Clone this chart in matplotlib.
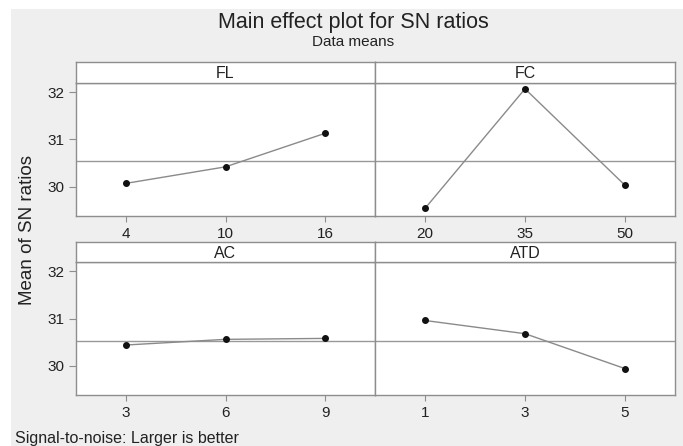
import matplotlib
matplotlib.use("Agg")
import matplotlib.pyplot as plt
from matplotlib.patches import Rectangle
import numpy as np

plt.rcParams['font.family'] = ['Liberation Sans', 'DejaVu Sans']

# ---- data ----
factors = ["FL", "FC", "AC", "ATD"]
FL_levels = ["4", "10", "16"]
FL_sn = [30.07, 30.42, 31.13]
FC_levels = ["20", "35", "50"]
FC_sn = [29.54, 32.07, 30.03]
AC_levels = ["3", "6", "9"]
AC_sn = [30.44, 30.56, 30.58]
ATD_levels = ["1", "3", "5"]
ATD_sn = [30.96, 30.68, 29.94]
y_ticks = [30, 31, 32]

levels = [FL_levels, FC_levels, AC_levels, ATD_levels]
values = [FL_sn, FC_sn, AC_sn, ATD_sn]
grand_mean = float(np.mean(FL_sn + FC_sn + AC_sn + ATD_sn))

W, H = 683, 446
fig = plt.figure(figsize=(W / 100, H / 100), dpi=100)
fig.patch.set_facecolor("white")
bg = "#efefef"
fig.patches.append(Rectangle((11 / W, 0), 1 - 11 / W, 1 - 9 / H, transform=fig.transFigure,
                             facecolor=bg, edgecolor="none", zorder=-10))

edge = "#8e8e8e"
line_c = "#8a8a8a"

def px_axes(x0, y0, x1, y1):
    return fig.add_axes([x0 / W, 1 - y1 / H, (x1 - x0) / W, (y1 - y0) / H])

cols = [(76, 375), (375, 675)]
rows = [(62, 82.7, 216), (242, 262, 395)]
ylim = (29.38, 32.2)

for i, (name, lv, vals) in enumerate(zip(factors, levels, values)):
    r, c = divmod(i, 2)
    x0, x1 = cols[c]
    st, pt, pb = rows[r]
    ax = px_axes(x0, pt, x1, pb)
    ax.set_facecolor("white")
    pos = np.arange(1, len(lv) + 1)
    ax.axhline(grand_mean, color="#999999", lw=1.0, zorder=1)
    ax.plot(pos, vals, color=line_c, lw=1.0, zorder=2)
    ax.plot(pos, vals, "o", color="#111111", ms=4, zorder=3)
    ax.set_xlim(0.5, len(lv) + 0.5)
    ax.set_ylim(*ylim)
    ax.set_xticks(pos)
    ax.set_xticklabels(lv)
    ax.set_yticks(y_ticks)
    if c == 0:
        ax.set_yticklabels([str(t) for t in y_ticks])
        ax.tick_params(axis="y", length=5, width=0.8, color=edge, pad=3,
                       labelsize=11, labelcolor="#222222")
    else:
        ax.tick_params(axis="y", left=False, labelleft=False)
    ax.tick_params(axis="x", length=4, width=0.8, color=edge, pad=4,
                   labelsize=11, labelcolor="#222222")
    for s in ax.spines.values():
        s.set_color(edge)
        s.set_linewidth(1.0)
    # strip
    sax = px_axes(x0, st, x1, pt)
    sax.set_facecolor("white")
    sax.set_xticks([]); sax.set_yticks([])
    for s in sax.spines.values():
        s.set_color(edge)
        s.set_linewidth(1.0)
    sax.text(0.5, 0.45, name, ha="center", va="center", fontsize=11.5,
             color="#222222", transform=sax.transAxes)

fig.text(353 / W, 1 - 28 / H, "Main effect plot for SN ratios", ha="center",
         va="baseline", fontsize=15.5, color="#222222")
fig.text(353 / W, 1 - 46.5 / H, "Data means", ha="center", va="baseline",
         fontsize=11, color="#222222")
fig.text(28 / W, 1 - 230 / H, "Mean of SN ratios", ha="center", va="center",
         rotation=90, fontsize=13.5, color="#222222")
fig.text(15 / W, 1 - 443 / H, "Signal-to-noise: Larger is better", ha="left",
         va="baseline", fontsize=11.5, color="#222222")

fig.savefig("out.png", dpi=100, facecolor=fig.get_facecolor())
